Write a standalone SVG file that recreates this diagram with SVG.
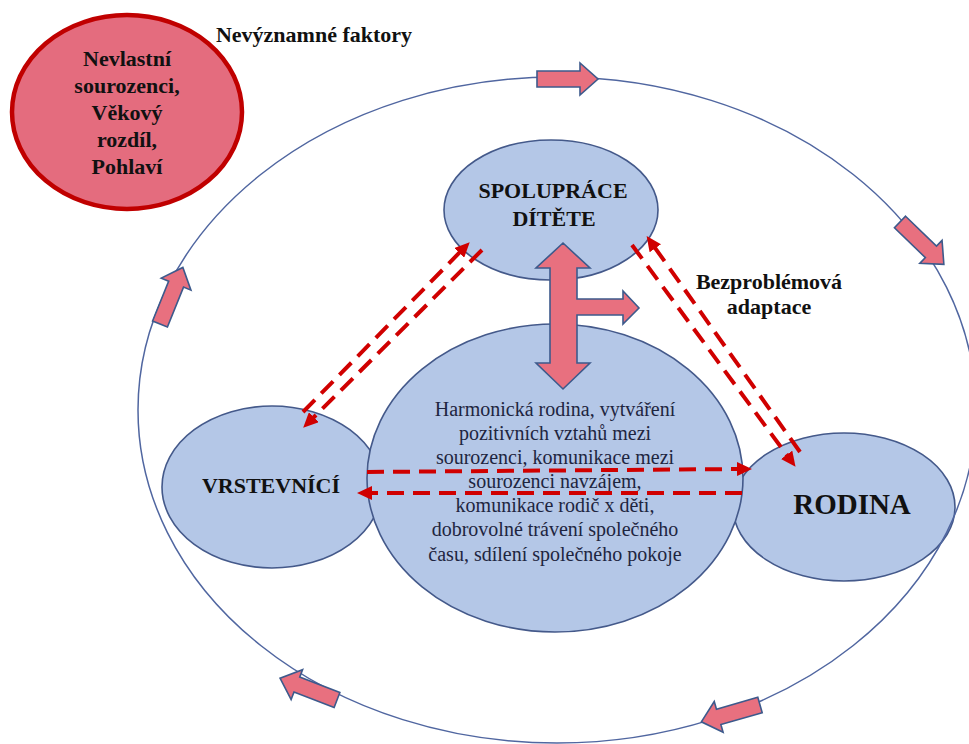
<svg xmlns="http://www.w3.org/2000/svg" width="969" height="744" viewBox="0 0 969 744">
<style>
.bg{fill:#ffffff}
.blue{fill:#b4c7e7;stroke:#44598a;stroke-width:1.6}
.redn{fill:#e46c7e;stroke:#c00000;stroke-width:4.5}
.ring{fill:none;stroke:#5066a0;stroke-width:1.5}
.blk{fill:#e8707f;stroke:#3d5a8c;stroke-width:1.6;stroke-linejoin:miter}
.dash{fill:none;stroke:#d00000;stroke-width:4;stroke-dasharray:17 9}
.t{font-family:"Liberation Serif","Times New Roman",serif;font-weight:bold;fill:#111111;text-anchor:middle}
.c{font-family:"Liberation Serif","Times New Roman",serif;font-size:20px;fill:#1e2540;text-anchor:middle}
</style>
<defs>
<marker id="ah" markerUnits="userSpaceOnUse" markerWidth="16" markerHeight="14" refX="4" refY="7" orient="auto">
<path d="M0,0 L15,7 L0,14 Z" fill="#d00000"/>
</marker>
<path id="ba" d="M0,-8 L43,-8 L43,-16 L61,0 L43,16 L43,8 L0,8 Z"/>
</defs>
<rect class="bg" x="0" y="0" width="969" height="744"/>

<g id="node-nevyznamne">
<ellipse class="redn" cx="127" cy="112" rx="115" ry="97"/>
<text class="t" font-size="22" x="127" y="66">Nevlastní</text>
<text class="t" font-size="22" x="127" y="93">sourozenci,</text>
<text class="t" font-size="22" x="127" y="120">Věkový</text>
<text class="t" font-size="22" x="127" y="147">rozdíl,</text>
<text class="t" font-size="22" x="127" y="174">Pohlaví</text>
</g>

<g id="node-vrstevnici">
<ellipse class="blue" cx="272" cy="487" rx="110" ry="81"/>
<text class="t" font-size="22" x="271" y="493">VRSTEVNÍCÍ</text>
</g>

<g id="node-rodina">
<ellipse class="blue" cx="844" cy="507" rx="111" ry="74"/>
<text class="t" font-size="29" x="852" y="514">RODINA</text>
</g>

<g id="ring">
<ellipse class="ring" cx="557" cy="410" rx="419" ry="333"/>
</g>

<g id="node-harmonicka">
<ellipse class="blue" cx="555" cy="478" rx="188" ry="154"/>
<text class="c" x="555" y="416">Harmonická rodina, vytváření</text>
<text class="c" x="555" y="440">pozitivních vztahů mezi</text>
<text class="c" x="555" y="464">sourozenci, komunikace mezi</text>
<text class="c" x="555" y="488">sourozenci navzájem,</text>
<text class="c" x="555" y="512">komunikace rodič x děti,</text>
<text class="c" x="555" y="536">dobrovolné trávení společného</text>
<text class="c" x="555" y="561">času, sdílení společného pokoje</text>
</g>

<g id="node-spoluprace">
<ellipse class="blue" cx="551" cy="210" rx="107" ry="70"/>
<text class="t" font-size="22" x="553" y="198">SPOLUPRÁCE</text>
<text class="t" font-size="22" x="554" y="226">DÍTĚTE</text>
</g>

<g id="labels">
<text class="t" font-size="22" x="314" y="42">Nevýznamné faktory</text>
<text class="t" font-size="22" x="769" y="289">Bezproblémová</text>
<text class="t" font-size="22" x="769" y="314">adaptace</text>
</g>

<g id="connectors">
<path class="dash" d="M303,412 L462,250" marker-end="url(#ah)"/>
<path class="dash" d="M482,250 L311,420" marker-end="url(#ah)"/>
<path class="dash" d="M800,452 L653,245" marker-end="url(#ah)"/>
<path class="dash" d="M632,245 L789,458" marker-end="url(#ah)"/>
<path class="dash" d="M367,472 L741,469" marker-end="url(#ah)"/>
<path class="dash" d="M742,493 L368,493" marker-end="url(#ah)"/>

<path class="blk" d="M550,268 L536,268 L563,243 L590,268 L577,268 L577,299 L623,299 L623,291 L639,308 L623,324 L623,315 L577,315 L577,363 L590,363 L563,389 L536,363 L550,363 Z"/>

<use href="#ba" class="blk" transform="translate(537,79)"/>
<use href="#ba" class="blk" transform="translate(900,222) rotate(44)"/>
<use href="#ba" class="blk" transform="translate(160,324) rotate(-68)"/>
<use href="#ba" class="blk" transform="translate(337,700) rotate(201)"/>
<use href="#ba" class="blk" transform="translate(760,705) rotate(164)"/>
</g>
</svg>
